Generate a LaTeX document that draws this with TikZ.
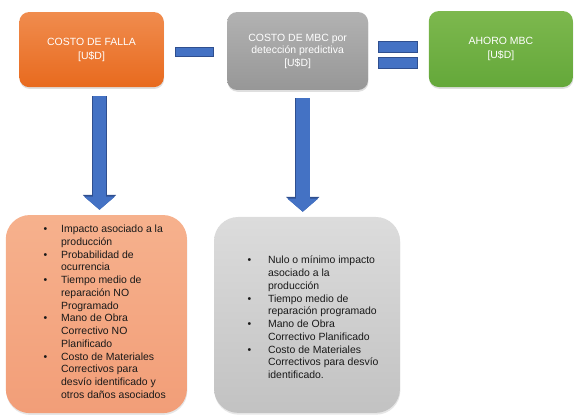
\documentclass[tikz,border=0pt]{standalone}
\usepackage{fontspec}
\setmainfont{Liberation Sans}
\usetikzlibrary{arrows.meta,shadows}

\definecolor{fallaTop}{HTML}{F08C4E}
\definecolor{fallaBot}{HTML}{E86A1E}
\definecolor{mbcTop}{HTML}{B2B2B2}
\definecolor{mbcBot}{HTML}{979797}
\definecolor{ahorroTop}{HTML}{7DB84E}
\definecolor{ahorroBot}{HTML}{64A83A}
\definecolor{listOrangeTop}{HTML}{F6B18D}
\definecolor{listOrangeBot}{HTML}{F29E78}
\definecolor{listGrayTop}{HTML}{DCDCDC}
\definecolor{listGrayBot}{HTML}{C2C2C2}
\definecolor{opFill}{HTML}{4472C4}
\definecolor{opEdge}{HTML}{2F4F8F}

\begin{document}
\begin{tikzpicture}[
    topbox/.style={
        rounded corners=0.35cm,
        minimum width=5.1cm,
        minimum height=2.65cm,
        align=center,
        text=white,
        font=\fontsize{10.5}{14}\selectfont,
        drop shadow={shadow xshift=0.4pt, shadow yshift=-1.8pt, opacity=0.25}
    },
    listbox/.style={
        rounded corners=0.85cm,
        drop shadow={shadow xshift=0.4pt, shadow yshift=-1.8pt, opacity=0.2}
    },
    listtext/.style={
        anchor=west,
        inner sep=0pt,
        text=black!90,
        font=\fontsize{10.5}{12.8}\selectfont
    },
    opbar/.style={
        draw=opEdge,
        fill=opFill,
        line width=0.6pt,
        inner sep=0pt,
        minimum height=0.4cm
    },
    blockarrow/.style={
        draw=opFill,
        line width=0.48cm,
        -{Triangle[length=0.46cm, width=1.08cm, line width=0.4pt]},
        preaction={draw=opEdge, line width=0.54cm,
            -{Triangle[length=0.52cm, width=1.17cm, line width=0.4pt]}}
    }
]

\useasboundingbox (0,0) rectangle (20.32,-14.64);

% Top row
\node[topbox, top color=fallaTop, bottom color=fallaBot] (falla) at (3.23,-1.75) {COSTO DE FALLA\\{[U\$D]}};
\node[opbar, minimum width=1.34cm, minimum height=0.32cm] (menos) at (6.84,-1.82) {};
\node[topbox, top color=mbcTop, bottom color=mbcBot, minimum width=4.97cm, minimum height=2.75cm,
    font=\fontsize{10.5}{12.5}\selectfont] (mbc) at (10.50,-1.80) {COSTO DE MBC por\\detección predictiva\\{[U\$D]}};
\node[opbar, minimum width=1.38cm] (igualA) at (14.02,-1.66) {};
\node[opbar, minimum width=1.38cm] (igualB) at (14.02,-2.22) {};
\node[topbox, top color=ahorroTop, bottom color=ahorroBot, minimum width=5.08cm, minimum height=2.68cm] (ahorro) at (17.67,-1.73) {AHORO MBC\\{[U\$D]}};

% Bottom row
\node[listbox, top color=listOrangeTop, bottom color=listOrangeBot, minimum width=6.39cm, minimum height=6.99cm] (fallaLista) at (3.40,-11.08) {};
\node[listtext] (fallaTexto) at (1.53,-11.04) {%
\begin{tabular}{@{}p{0.62cm}@{}l@{}}
\textbullet & Impacto asociado a la\\
 & producción\\
\textbullet & Probabilidad de\\
 & ocurrencia\\
\textbullet & Tiempo medio de\\
 & reparación NO\\
 & Programado\\
\textbullet & Mano de Obra\\
 & Correctivo NO\\
 & Planificado\\
\textbullet & Costo de Materiales\\
 & Correctivos para\\
 & desvío identificado y\\
 & otros daños asociados
\end{tabular}};

\node[listbox, top color=listGrayTop, bottom color=listGrayBot, minimum width=6.56cm, minimum height=6.91cm] (mbcLista) at (10.83,-11.11) {};
\node[listtext] (mbcTexto) at (8.73,-11.24) {%
\begin{tabular}{@{}p{0.72cm}@{}l@{}}
\textbullet & Nulo o mínimo impacto\\
 & asociado a la\\
 & producción\\
\textbullet & Tiempo medio de\\
 & reparación programado\\
\textbullet & Mano de Obra\\
 & Correctivo Planificado\\
\textbullet & Costo de Materiales\\
 & Correctivos para desvío\\
 & identificado.
\end{tabular}};

% Arrows
\draw[blockarrow] ([xshift=0.28cm,yshift=-0.32cm]falla.south) -- ([xshift=0.28cm,yshift=0.18cm]falla.south |- fallaLista.north);
\draw[blockarrow] ([xshift=0.18cm,yshift=-0.28cm]mbc.south) -- ([xshift=0.18cm,yshift=0.18cm]mbc.south |- mbcLista.north);

\end{tikzpicture}
\end{document}
